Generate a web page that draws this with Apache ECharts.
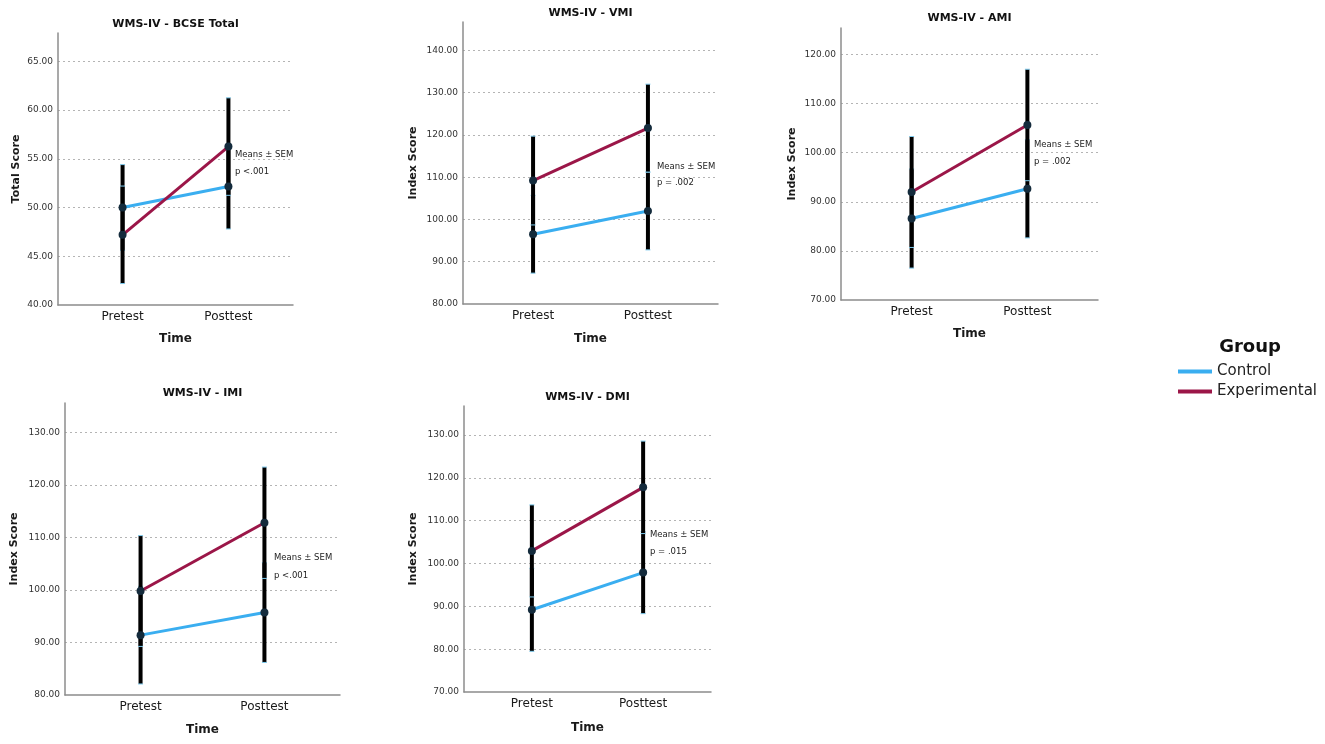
<!DOCTYPE html>
<html>
<head>
<meta charset="utf-8">
<script src="https://cdn.jsdelivr.net/npm/echarts@6/dist/echarts.min.js"></script>
<style>
  html, body { margin: 0; padding: 0; background: #fff; }
  #chart { width: 1325px; height: 744px; }
</style>
</head>
<body>
<div id="chart"></div>
<script>
// ---------------- data ----------------
const timeLabels = ['Pretest', 'Posttest'];
const groupNames = ['Control', 'Experimental'];
const panelTitles = ['WMS-IV - BCSE Total', 'WMS-IV - VMI', 'WMS-IV - AMI', 'WMS-IV - IMI', 'WMS-IV - DMI'];
const yAxisNames = ['Total Score', 'Index Score', 'Index Score', 'Index Score', 'Index Score'];
const pValueTexts = ['p <.001', 'p = .002', 'p = .002', 'p <.001', 'p = .015'];
const noteText = 'Means \u00b1 SEM';

// means [pretest, posttest] per panel
const controlMean = [[50.0, 52.15], [96.5, 102.0], [86.6, 92.65], [91.4, 95.7], [89.2, 97.9]];
const experimentalMean = [[47.2, 56.25], [109.2, 121.6], [92.0, 105.65], [99.8, 112.8], [102.95, 117.8]];
// error bar half-lengths [pretest, posttest] per panel
const controlErr = [[4.4, 4.35], [9.2, 9.2], [10.1, 10.0], [9.3, 9.5], [9.7, 9.6]];
const experimentalErr = [[5.0, 5.0], [10.5, 10.4], [11.3, 11.35], [10.55, 10.6], [10.75, 10.8]];

// y axis ranges
const yMin = [40, 80, 70, 80, 70];
const yMax = [67.9, 146.7, 125.4, 135.6, 136.8];
const yInterval = [5, 10, 10, 10, 10];

// ---------------- layout ----------------
const gridBoxes = [
  { left: 58, top: 33, width: 235, height: 272 },
  { left: 463, top: 22, width: 255, height: 282 },
  { left: 841, top: 28, width: 257, height: 272 },
  { left: 65, top: 403, width: 275, height: 292 },
  { left: 464, top: 406, width: 247, height: 286 }
];
const titleCenterY = [24, 13, 18, 393, 397];
const yNameGap = [36, 44, 43, 45, 45];
const xNameGap = [28, 29, 28, 29, 30];
const notePos = [[235, 155, 172], [657, 167, 183], [1034, 145, 162], [274, 558, 576], [650, 535, 552]];

const colors = { Control: '#3aaef0', Experimental: '#9b1648' };
const markerColor = '#142b3c';
const FONT = 'DejaVu Sans';

const grid = [], xAxis = [], yAxis = [], series = [], graphic = [];

function errRender(params, api) {
  const x = api.value(0), lo = api.value(1), hi = api.value(2);
  const p1 = api.coord([x, lo]);
  const p2 = api.coord([x, hi]);
  return {
    type: 'group',
    children: [
      { type: 'line', shape: { x1: p1[0], y1: p1[1], x2: p2[0], y2: p2[1] }, style: { stroke: '#000', lineWidth: 4 } },
      { type: 'line', shape: { x1: p1[0] - 2.5, y1: p1[1], x2: p1[0] + 2.5, y2: p1[1] }, style: { stroke: '#7ecbee', lineWidth: 1 } },
      { type: 'line', shape: { x1: p2[0] - 2.5, y1: p2[1], x2: p2[0] + 2.5, y2: p2[1] }, style: { stroke: '#7ecbee', lineWidth: 1 } }
    ]
  };
}

for (let i = 0; i < 5; i++) {
  const g = gridBoxes[i];
  grid.push({ left: g.left, top: g.top, width: g.width, height: g.height, containLabel: false });
  xAxis.push({
    type: 'value', gridIndex: i, min: 0.39, max: 2.61,
    axisLine: { show: true, onZero: false, lineStyle: { color: '#8c8c8c', width: 1.5 } },
    axisTick: { show: false },
    splitLine: { show: false },
    axisLabel: {
      customValues: [1, 2],
      formatter: v => timeLabels[Math.round(v) - 1],
      fontFamily: FONT, fontSize: 12, color: '#1a1a1a', margin: 6
    },
    name: 'Time', nameLocation: 'middle', nameGap: xNameGap[i],
    nameTextStyle: { fontFamily: FONT, fontSize: 12, fontWeight: 'bold', color: '#1a1a1a' }
  });
  yAxis.push({
    type: 'value', gridIndex: i, min: yMin[i], max: yMax[i], interval: yInterval[i],
    axisLine: { show: true, lineStyle: { color: '#8c8c8c', width: 1.5 } },
    axisTick: { show: false },
    splitLine: { show: true, showMinLine: false, showMaxLine: false, lineStyle: { color: '#b4b4b4', type: [2, 3], width: 1 } },
    axisLabel: {
      showMaxLabel: false,
      formatter: v => v.toFixed(2),
      fontFamily: FONT, fontSize: 9, color: '#333', margin: 5
    },
    name: yAxisNames[i], nameLocation: 'middle', nameGap: yNameGap[i],
    nameTextStyle: { fontFamily: FONT, fontSize: 11, fontWeight: 'bold', color: '#1a1a1a' }
  });

  // error bars
  const errData = [];
  [[controlMean, controlErr], [experimentalMean, experimentalErr]].forEach(([m, e]) => {
    for (let t = 0; t < 2; t++) {
      errData.push([t + 1, m[i][t] - e[i][t], m[i][t] + e[i][t]]);
    }
  });
  series.push({
    type: 'custom', name: 'SEM', xAxisIndex: i, yAxisIndex: i,
    renderItem: errRender, encode: { x: 0, y: [1, 2] }, data: errData, z: 1, silent: true
  });

  [['Control', controlMean], ['Experimental', experimentalMean]].forEach(([name, m]) => {
    series.push({
      type: 'line', name: name, xAxisIndex: i, yAxisIndex: i,
      data: m[i].map((v, t) => [t + 1, v]),
      lineStyle: { color: colors[name], width: 3 },
      itemStyle: { color: markerColor },
      symbol: 'circle', symbolSize: 8, showSymbol: true,
      z: 3, silent: true, emphasis: { disabled: true }
    });
  });

  graphic.push({
    type: 'text', x: g.left + g.width / 2, y: titleCenterY[i],
    style: { text: panelTitles[i], fontFamily: FONT, fontSize: 11, fontWeight: 'bold', fill: '#111', textAlign: 'center', textVerticalAlign: 'middle' }
  });
  graphic.push({
    type: 'text', x: notePos[i][0], y: notePos[i][1],
    style: { text: noteText, fontFamily: FONT, fontSize: 8.5, fill: '#222', textVerticalAlign: 'middle' }
  });
  graphic.push({
    type: 'text', x: notePos[i][0], y: notePos[i][2],
    style: { text: pValueTexts[i], fontFamily: FONT, fontSize: 8.5, fill: '#222', textVerticalAlign: 'middle' }
  });
}

graphic.push({
  type: 'text', x: 1250, y: 347,
  style: { text: 'Group', fontFamily: FONT, fontSize: 18, fontWeight: 'bold', fill: '#111', textAlign: 'center', textVerticalAlign: 'middle' }
});

const option = {
  animation: false,
  backgroundColor: '#fff',
  grid, xAxis, yAxis, series, graphic,
  legend: {
    orient: 'vertical', left: 1178, top: 363, padding: 0,
    icon: 'rect', itemWidth: 34, itemHeight: 4, itemGap: 3,
    selectedMode: false,
    textStyle: { fontFamily: FONT, fontSize: 15, color: '#222', lineHeight: 17 },
    data: groupNames.map(n => ({ name: n, itemStyle: { color: colors[n] } }))
  }
};

const chart = echarts.init(document.getElementById('chart'));
chart.setOption(option);
</script>
</body>
</html>
